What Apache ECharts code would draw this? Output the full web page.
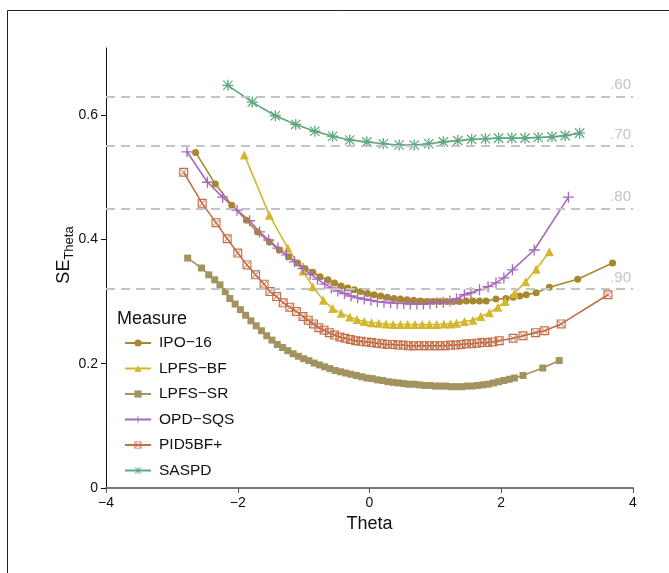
<!DOCTYPE html>
<html>
<head>
<meta charset="utf-8">
<script src="https://cdn.jsdelivr.net/npm/echarts@6/dist/echarts.min.js"></script>
<style>
html,body{margin:0;padding:0;background:#fff;}
#chart{width:669px;height:573px;}
</style>
</head>
<body>
<div id="chart"></div>
<script>
// ---- Data ----
const seriesNames = ['IPO\u221216', 'LPFS\u2212BF', 'LPFS\u2212SR', 'OPD\u2212SQS', 'PID5BF+', 'SASPD'];

const thetaIPO = [-2.64,-2.34,-2.09,-1.87,-1.70,-1.52,-1.37,-1.23,-1.09,-0.98,-0.86,-0.75,-0.63,-0.53,-0.43,-0.33,-0.23,-0.13,-0.03,0.07,0.17,0.27,0.37,0.47,0.57,0.67,0.77,0.87,0.97,1.07,1.17,1.27,1.37,1.47,1.57,1.67,1.77,1.92,2.07,2.18,2.28,2.38,2.53,2.73,3.16,3.69];
const seIPO    = [0.540,0.489,0.455,0.431,0.412,0.396,0.383,0.372,0.362,0.353,0.347,0.340,0.335,0.330,0.325,0.322,0.319,0.316,0.313,0.311,0.309,0.307,0.305,0.304,0.303,0.302,0.301,0.300,0.300,0.300,0.300,0.300,0.300,0.301,0.301,0.301,0.301,0.304,0.305,0.307,0.309,0.311,0.314,0.323,0.336,0.362];

const thetaBF = [-1.90,-1.52,-1.24,-1.01,-0.86,-0.70,-0.56,-0.43,-0.30,-0.19,-0.08,0.03,0.14,0.25,0.36,0.47,0.58,0.69,0.80,0.91,1.02,1.13,1.23,1.32,1.44,1.57,1.69,1.82,1.95,2.06,2.20,2.37,2.53,2.73];
const seBF    = [0.536,0.439,0.386,0.349,0.324,0.302,0.289,0.281,0.275,0.271,0.268,0.266,0.265,0.264,0.263,0.263,0.263,0.263,0.263,0.263,0.263,0.264,0.264,0.265,0.268,0.270,0.276,0.282,0.291,0.300,0.313,0.332,0.352,0.380];

const thetaSR = [-2.76,-2.55,-2.44,-2.35,-2.27,-2.19,-2.12,-2.04,-1.96,-1.88,-1.80,-1.72,-1.64,-1.56,-1.48,-1.40,-1.32,-1.24,-1.16,-1.08,-1.00,-0.92,-0.84,-0.76,-0.68,-0.60,-0.52,-0.44,-0.36,-0.28,-0.20,-0.12,-0.04,0.04,0.12,0.20,0.28,0.36,0.44,0.52,0.60,0.68,0.76,0.84,0.92,1.00,1.08,1.16,1.24,1.32,1.40,1.48,1.56,1.64,1.72,1.80,1.88,1.96,2.04,2.12,2.20,2.33,2.63,2.88];
const seSR    = [0.370,0.354,0.343,0.335,0.327,0.316,0.305,0.296,0.287,0.278,0.269,0.261,0.253,0.245,0.238,0.231,0.226,0.221,0.216,0.212,0.208,0.205,0.201,0.198,0.195,0.192,0.189,0.187,0.185,0.183,0.181,0.179,0.177,0.176,0.174,0.173,0.171,0.170,0.169,0.168,0.167,0.167,0.166,0.165,0.165,0.164,0.164,0.164,0.163,0.163,0.163,0.164,0.164,0.165,0.166,0.167,0.169,0.171,0.173,0.175,0.177,0.181,0.193,0.205];

const thetaOPD = [-2.77,-2.46,-2.23,-2.01,-1.82,-1.67,-1.53,-1.39,-1.26,-1.14,-1.01,-0.90,-0.79,-0.68,-0.58,-0.48,-0.38,-0.28,-0.18,-0.08,0.02,0.12,0.22,0.32,0.42,0.52,0.62,0.72,0.82,0.92,1.02,1.12,1.22,1.32,1.44,1.54,1.67,1.80,1.92,2.04,2.17,2.50,3.02];
const seOPD    = [0.541,0.492,0.468,0.447,0.430,0.412,0.399,0.386,0.375,0.364,0.353,0.344,0.336,0.328,0.322,0.317,0.313,0.309,0.306,0.304,0.302,0.300,0.299,0.298,0.297,0.297,0.296,0.296,0.296,0.297,0.298,0.299,0.301,0.304,0.311,0.314,0.319,0.324,0.330,0.338,0.351,0.383,0.468];

const thetaPID = [-2.82,-2.54,-2.33,-2.16,-2.00,-1.86,-1.73,-1.60,-1.51,-1.41,-1.31,-1.21,-1.11,-1.01,-0.93,-0.85,-0.77,-0.69,-0.61,-0.53,-0.45,-0.37,-0.29,-0.21,-0.13,-0.05,0.03,0.11,0.19,0.27,0.35,0.43,0.51,0.59,0.67,0.75,0.83,0.91,0.99,1.07,1.15,1.23,1.31,1.39,1.47,1.55,1.63,1.71,1.79,1.87,1.97,2.18,2.33,2.52,2.66,2.91,3.62];
const sePID    = [0.508,0.458,0.427,0.401,0.378,0.359,0.343,0.328,0.316,0.308,0.298,0.291,0.284,0.276,0.270,0.264,0.258,0.254,0.250,0.246,0.243,0.241,0.239,0.237,0.236,0.235,0.234,0.233,0.232,0.231,0.231,0.230,0.230,0.229,0.229,0.229,0.229,0.229,0.229,0.229,0.229,0.230,0.230,0.231,0.232,0.232,0.233,0.234,0.234,0.235,0.237,0.241,0.245,0.250,0.253,0.264,0.311];

const thetaSAS = [-2.15,-1.78,-1.43,-1.12,-0.83,-0.56,-0.30,-0.04,0.21,0.45,0.68,0.90,1.12,1.34,1.55,1.76,1.96,2.16,2.36,2.56,2.77,2.97,3.19];
const seSAS    = [0.648,0.621,0.599,0.585,0.574,0.566,0.560,0.557,0.554,0.552,0.552,0.554,0.557,0.559,0.561,0.562,0.563,0.563,0.563,0.564,0.565,0.567,0.571];

const refSE = [0.632, 0.548, 0.447, 0.316];
const refLabels = ['.60', '.70', '.80', '.90'];
const xTicks = [-4, -2, 0, 2, 4];
const yTicks = [0, 0.2, 0.4, 0.6];

// ---- Styles ----
const colors = ['#A8882C', '#D4B72E', '#A39360', '#A569B9', '#C46E46', '#5EA880'];
const plusPath = 'path://M4.4,0h1.2v10h-1.2z M0,4.4h10v1.2h-10z';
const starPath = 'path://M4.4,0h1.2v10h-1.2z M0,4.4h10v1.2h-10z M1.2,0.4 L9.6,8.8 L8.8,9.6 L0.4,1.2 Z M8.8,0.4 L9.6,1.2 L1.2,9.6 L0.4,8.8 Z';
const boxXPath = 'path://M0,0 H10 V10 H0 Z M1.3,1.3 V8.7 H8.7 V1.3 Z M2.2,1.6 L8.4,7.8 L7.8,8.4 L1.6,2.2 Z M7.8,1.6 L8.4,2.2 L2.2,8.4 L1.6,7.8 Z';
const symbols = ['circle', 'triangle', 'rect', plusPath, boxXPath, starPath];
const symbolSizes = [7, 9, 7, 11, 9, 11];

function pairs(xs, ys) { return xs.map((x, i) => [x, ys[i]]); }
const allData = [
  pairs(thetaIPO, seIPO), pairs(thetaBF, seBF), pairs(thetaSR, seSR),
  pairs(thetaOPD, seOPD), pairs(thetaPID, sePID), pairs(thetaSAS, seSAS)
];

const FONT = 'Liberation Sans, Arial, sans-serif';

const series = seriesNames.map((name, i) => ({
  name: name,
  type: 'line',
  data: allData[i],
  symbol: symbols[i],
  symbolSize: symbolSizes[i],
  showAllSymbol: true,
  lineStyle: { color: colors[i], width: 1.6 },
  itemStyle: { color: colors[i] },
  emphasis: { disabled: true },
  z: 3
}));

series.push({
  name: 'ref',
  type: 'line',
  data: [],
  silent: true,
  markLine: {
    silent: true,
    symbol: ['none', 'none'],
    lineStyle: { color: '#c4c4c4', type: [9, 6], width: 2 },
    label: {
      show: true,
      position: 'insideEndTop',
      color: '#c4c4c4',
      fontSize: 15,
      fontFamily: FONT,
      distance: [2, 4],
      formatter: (p) => p.name
    },
    data: refSE.map((v, i) => ({ yAxis: v, name: refLabels[i] }))
  },
  z: 1
});

const chart = echarts.init(document.getElementById('chart'), null, { renderer: 'canvas' });
chart.setOption({
  backgroundColor: '#ffffff',
  animation: false,
  color: colors,
  textStyle: { fontFamily: FONT },
  grid: { left: 106, right: 36, top: 48, bottom: 85, containLabel: false },
  xAxis: {
    type: 'value',
    min: -4, max: 4, interval: 2,
    splitLine: { show: false },
    axisLine: { show: true, onZero: false, lineStyle: { color: '#777', width: 2 } },
    axisTick: { show: true, length: 5, lineStyle: { color: '#555', width: 1 } },
    axisLabel: {
      color: '#111', fontSize: 14, margin: 8,
      formatter: (v) => String(v).replace('-', '\u2212')
    },
    name: 'Theta',
    nameLocation: 'middle',
    nameGap: 26,
    nameTextStyle: { color: '#111', fontSize: 18 }
  },
  yAxis: {
    type: 'value',
    min: 0, max: 0.708,
    splitLine: { show: false },
    axisLine: { show: true, onZero: false, lineStyle: { color: '#111', width: 1 } },
    axisTick: { show: true, length: 5, customValues: yTicks, lineStyle: { color: '#111' } },
    axisLabel: { color: '#111', fontSize: 14, margin: 8, customValues: yTicks,
      formatter: (v) => String(v) }
  },
  legend: {
    show: true,
    orient: 'vertical',
    left: 119, top: 330,
    itemWidth: 26, itemHeight: 9, itemGap: 9.5,
    data: seriesNames,
    textStyle: { color: '#111', fontSize: 15.5, padding: [0, 0, 0, 3] },
    selectedMode: false
  },
  graphic: [
    { type: 'rect', shape: { x: 7.5, y: 10.5, width: 700, height: 700 },
      style: { fill: 'none', stroke: '#222', lineWidth: 1 }, silent: true, z: -10 },
    { type: 'text', left: 117, top: 310,
      style: { text: 'Measure', fontSize: 18, fill: '#111', fontFamily: FONT } },
    { type: 'text', x: 62, y: 255, rotation: Math.PI / 2,
      style: {
        text: '{a|SE}{b|Theta}', align: 'center', verticalAlign: 'middle',
        rich: {
          a: { fontSize: 18, fill: '#111', fontFamily: FONT, lineHeight: 22, verticalAlign: 'bottom' },
          b: { fontSize: 13, fill: '#111', fontFamily: FONT, lineHeight: 14, verticalAlign: 'bottom', padding: [0,0,-3,0] }
        }
      } }
  ],
  series: series
});
</script>
</body>
</html>
